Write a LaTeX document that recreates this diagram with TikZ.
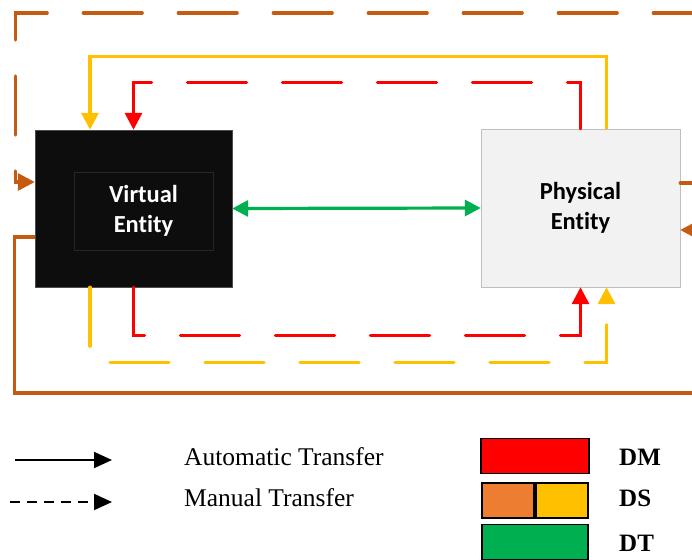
\documentclass[tikz,border=0pt]{standalone}
\usepackage{fontspec}
\setmainfont{Liberation Serif}
\newfontfamily\entityfont[Ligatures=NoCommon]{Carlito}
\usetikzlibrary{arrows.meta}
\definecolor{dmred}{RGB}{255,0,0}
\definecolor{dsorange}{RGB}{237,125,49}
\definecolor{dsyellow}{RGB}{255,192,0}
\definecolor{dtgreen}{RGB}{0,176,80}
\definecolor{dsbrown}{RGB}{197,90,17}

\begin{document}
\begin{tikzpicture}[x=1pt, y=-1pt,
  entity/.style={draw, minimum width=197pt, minimum height=157pt, inner sep=0pt, align=center,
    font=\entityfont\fontsize{24.5}{30}\selectfont\bfseries},
  flow/.style={line width=3.2pt},
  manual/.style={flow, line cap=round, dash pattern=on 59pt off 36pt},
  tip/.style={-{Triangle[length=17pt,width=17pt]}},
  legbox/.style={draw=black, line width=1.4pt, minimum height=35pt, inner sep=0pt},
  legtext/.style={anchor=west, inner sep=0pt, font=\fontsize{25.5}{30}\selectfont},
  legkey/.style={anchor=west, inner sep=0pt, font=\fontsize{25}{30}\selectfont\bfseries}]
\useasboundingbox (0,0) rectangle (692,559);
\clip (0,0) rectangle (692,559);

% the two entities
\node[entity, fill=black!95, draw=black!70] (virt) at (133.5,208.5) {};
\node[entity, draw=black!85, line width=0.8pt, minimum width=139pt, minimum height=78pt, text=white] (virtin) at (143.5,211) {Virtual\\Entity};
\node[entity, fill=black!5, draw=black!25, minimum width=199pt, minimum height=158pt] (phys) at (580.5,208) {Physical\\Entity};

% transfers
\draw[flow, dsyellow, tip] ([xshift=26pt]phys.north) -- ++(0,-72) -| ([xshift=-43.5pt]virt.north);
\draw[manual, dmred, tip] (phys.north) -- ++(0,-46) -| (virt.north);
\draw[manual, dmred, tip] (virt.south) -- ++(0,48) -| (phys.south);
\draw[manual, dsyellow, tip] ([xshift=-43.5pt]virt.south) -- ++(0,75) -| ([xshift=26pt]phys.south);
\draw[flow, dsbrown, tip] ([yshift=-28.5pt]virt.west) -| ++(-20,156) -- ++(700,0) |- ([yshift=-22pt]phys.east);
\draw[manual, dsbrown, tip] ([yshift=25pt]phys.east) -- ++(26,0) |- ++(-691,-170) |- ([yshift=26.5pt]virt.west);
\draw[flow, dtgreen, {Triangle[length=16pt,width=16pt]}-{Triangle[length=16pt,width=16pt]}] (virt.east) -- (phys.west);

% legend
\coordinate (autostart) at (15,460);
\coordinate (autoend) at (112,460);
\coordinate (manstart) at (10,502);
\coordinate (manend) at (112,502);
\draw[line width=2pt, -{Triangle[length=18pt,width=16pt]}] (autostart) -- (autoend);
\draw[line width=2pt, dash pattern=on 10pt off 7pt, -{Triangle[length=18pt,width=16pt]}] (manstart) -- (manend);
\node[legtext] (autolabel) at (184,457) {Automatic Transfer};
\node[legtext] (manlabel) at (184,498) {Manual Transfer};

\node[legbox, fill=dmred, minimum width=108pt] (dmbox) at (535,456) {};
\node[legbox, fill=dsorange, minimum width=52pt] (dsleft) at (508,500.5) {};
\node[legbox, fill=dsyellow, minimum width=52pt] (dsright) at (562,500.5) {};
\node[legbox, fill=dtgreen, minimum width=106pt] (dtbox) at (535,542) {};
\node[legkey] (dmlabel) at (619,457) {DM};
\node[legkey] (dslabel) at (619,498) {DS};
\node[legkey] (dtlabel) at (619,543) {DT};
\end{tikzpicture}
\end{document}
